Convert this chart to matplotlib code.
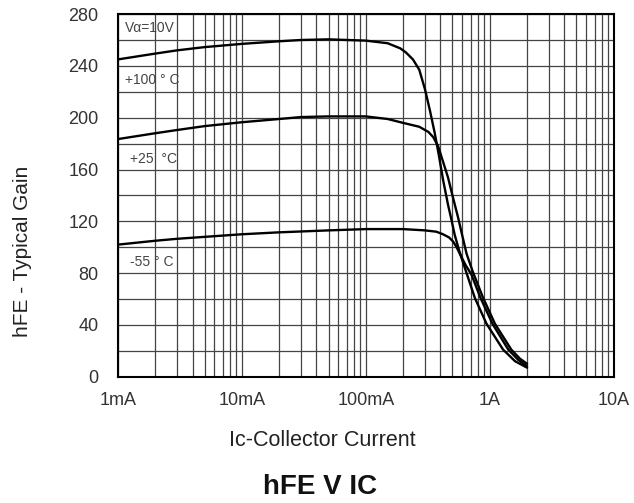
import matplotlib
matplotlib.use('Agg')
import matplotlib.pyplot as plt
from matplotlib.ticker import FixedLocator, NullFormatter

plt.rcParams['font.family'] = ['Liberation Sans', 'DejaVu Sans']

# collector current (A) and typical gain
ic_100 = [0.001, 0.002, 0.003, 0.005, 0.01, 0.02, 0.03, 0.05, 0.1, 0.15,
          0.19, 0.21, 0.24, 0.27, 0.30, 0.33, 0.36, 0.39, 0.42, 0.46,
          0.49, 0.52, 0.56, 0.6, 0.65, 0.757, 0.94, 1.28, 1.6, 2.0]
hfe_100 = [245, 249.5, 252, 254.5, 257, 259, 260, 260.5, 259.5, 257.5,
           253.5, 250.5, 245, 237, 222, 205, 188, 170, 152, 133,
           121.5, 110, 99, 90, 80, 61, 41, 21, 12, 7]

ic_25 = [0.001, 0.002, 0.003, 0.005, 0.01, 0.02, 0.03, 0.05, 0.1, 0.15,
         0.2, 0.27, 0.32, 0.35, 0.383, 0.42, 0.46, 0.5, 0.555, 0.6,
         0.65, 0.73, 0.883, 1.1, 1.49, 1.75, 2.0]
hfe_25 = [183.5, 188, 190.5, 193.5, 196.5, 199, 200.5, 201, 201, 199,
          196, 193, 189, 185, 178, 166, 154, 140, 123, 109,
          95, 81, 61, 41, 21, 14, 10]

ic_m55 = [0.001, 0.002, 0.003, 0.005, 0.01, 0.02, 0.05, 0.1, 0.2, 0.3,
          0.37, 0.42, 0.47, 0.505, 0.54, 0.58, 0.64, 0.711, 0.841, 1.05,
          1.41, 1.7, 2.0]
hfe_m55 = [102, 105, 106.5, 108, 110, 111.5, 113, 114, 114, 113,
           112, 110, 107.5, 104.5, 100, 94, 86, 79, 61, 41,
           21, 13, 8]

x_ticks = [0.001, 0.01, 0.1, 1, 10]
x_labels = ['1mA', '10mA', '100mA', '1A', '10A']
y_ticks = list(range(0, 281, 40))

fig = plt.figure(figsize=(6.34, 5.03), dpi=100)
ax = fig.add_axes([0.186, 0.251, 0.782, 0.721])

ax.set_xscale('log')
ax.set_xlim(0.001, 10)
ax.set_ylim(0, 280)

minor = [m * 10.0 ** e for e in range(-3, 1) for m in range(2, 10)]
ax.xaxis.set_minor_locator(FixedLocator(minor))
ax.xaxis.set_minor_formatter(NullFormatter())
ax.set_xticks(x_ticks)
ax.set_xticklabels(x_labels)
ax.set_yticks(y_ticks)
ax.yaxis.set_minor_locator(FixedLocator(range(20, 280, 40)))

ax.grid(True, which='both', color='#444444', lw=0.9)
ax.set_axisbelow(True)
ax.tick_params(which='both', length=0)
ax.tick_params(axis='y', pad=14, labelsize=13, colors='#333333')
ax.tick_params(axis='x', pad=11, labelsize=13, colors='#333333')
for s in ax.spines.values():
    s.set_linewidth(1.5)
    s.set_color('black')

for ic, hfe in [(ic_100, hfe_100), (ic_25, hfe_25), (ic_m55, hfe_m55)]:
    ax.plot(ic, hfe, color='black', lw=1.7, solid_capstyle='round',
            solid_joinstyle='round')

lbl = dict(transform=ax.transAxes, fontsize=10, color='#444444',
           ha='left', va='center')
ax.text(0.014, 0.961, 'V\u03b1=10V', **lbl)
ax.text(0.014, 0.818, '+100 \u00b0 C', **lbl)
ax.text(0.024, 0.600, '+25  \u00b0C', **lbl)
ax.text(0.024, 0.316, '-55 \u00b0 C', **lbl)

fig.text(0.035, 0.501, 'hFE - Typical Gain', rotation=90, fontsize=15,
         ha='center', va='center', color='#222222')
fig.text(0.509, 0.125, 'Ic-Collector Current', fontsize=15.5,
         ha='center', va='center', color='#222222')
fig.text(0.505, 0.032, 'hFE V IC', fontsize=20, fontweight='bold',
         ha='center', va='center', color='#111111')

fig.savefig('out.png', dpi=100)
